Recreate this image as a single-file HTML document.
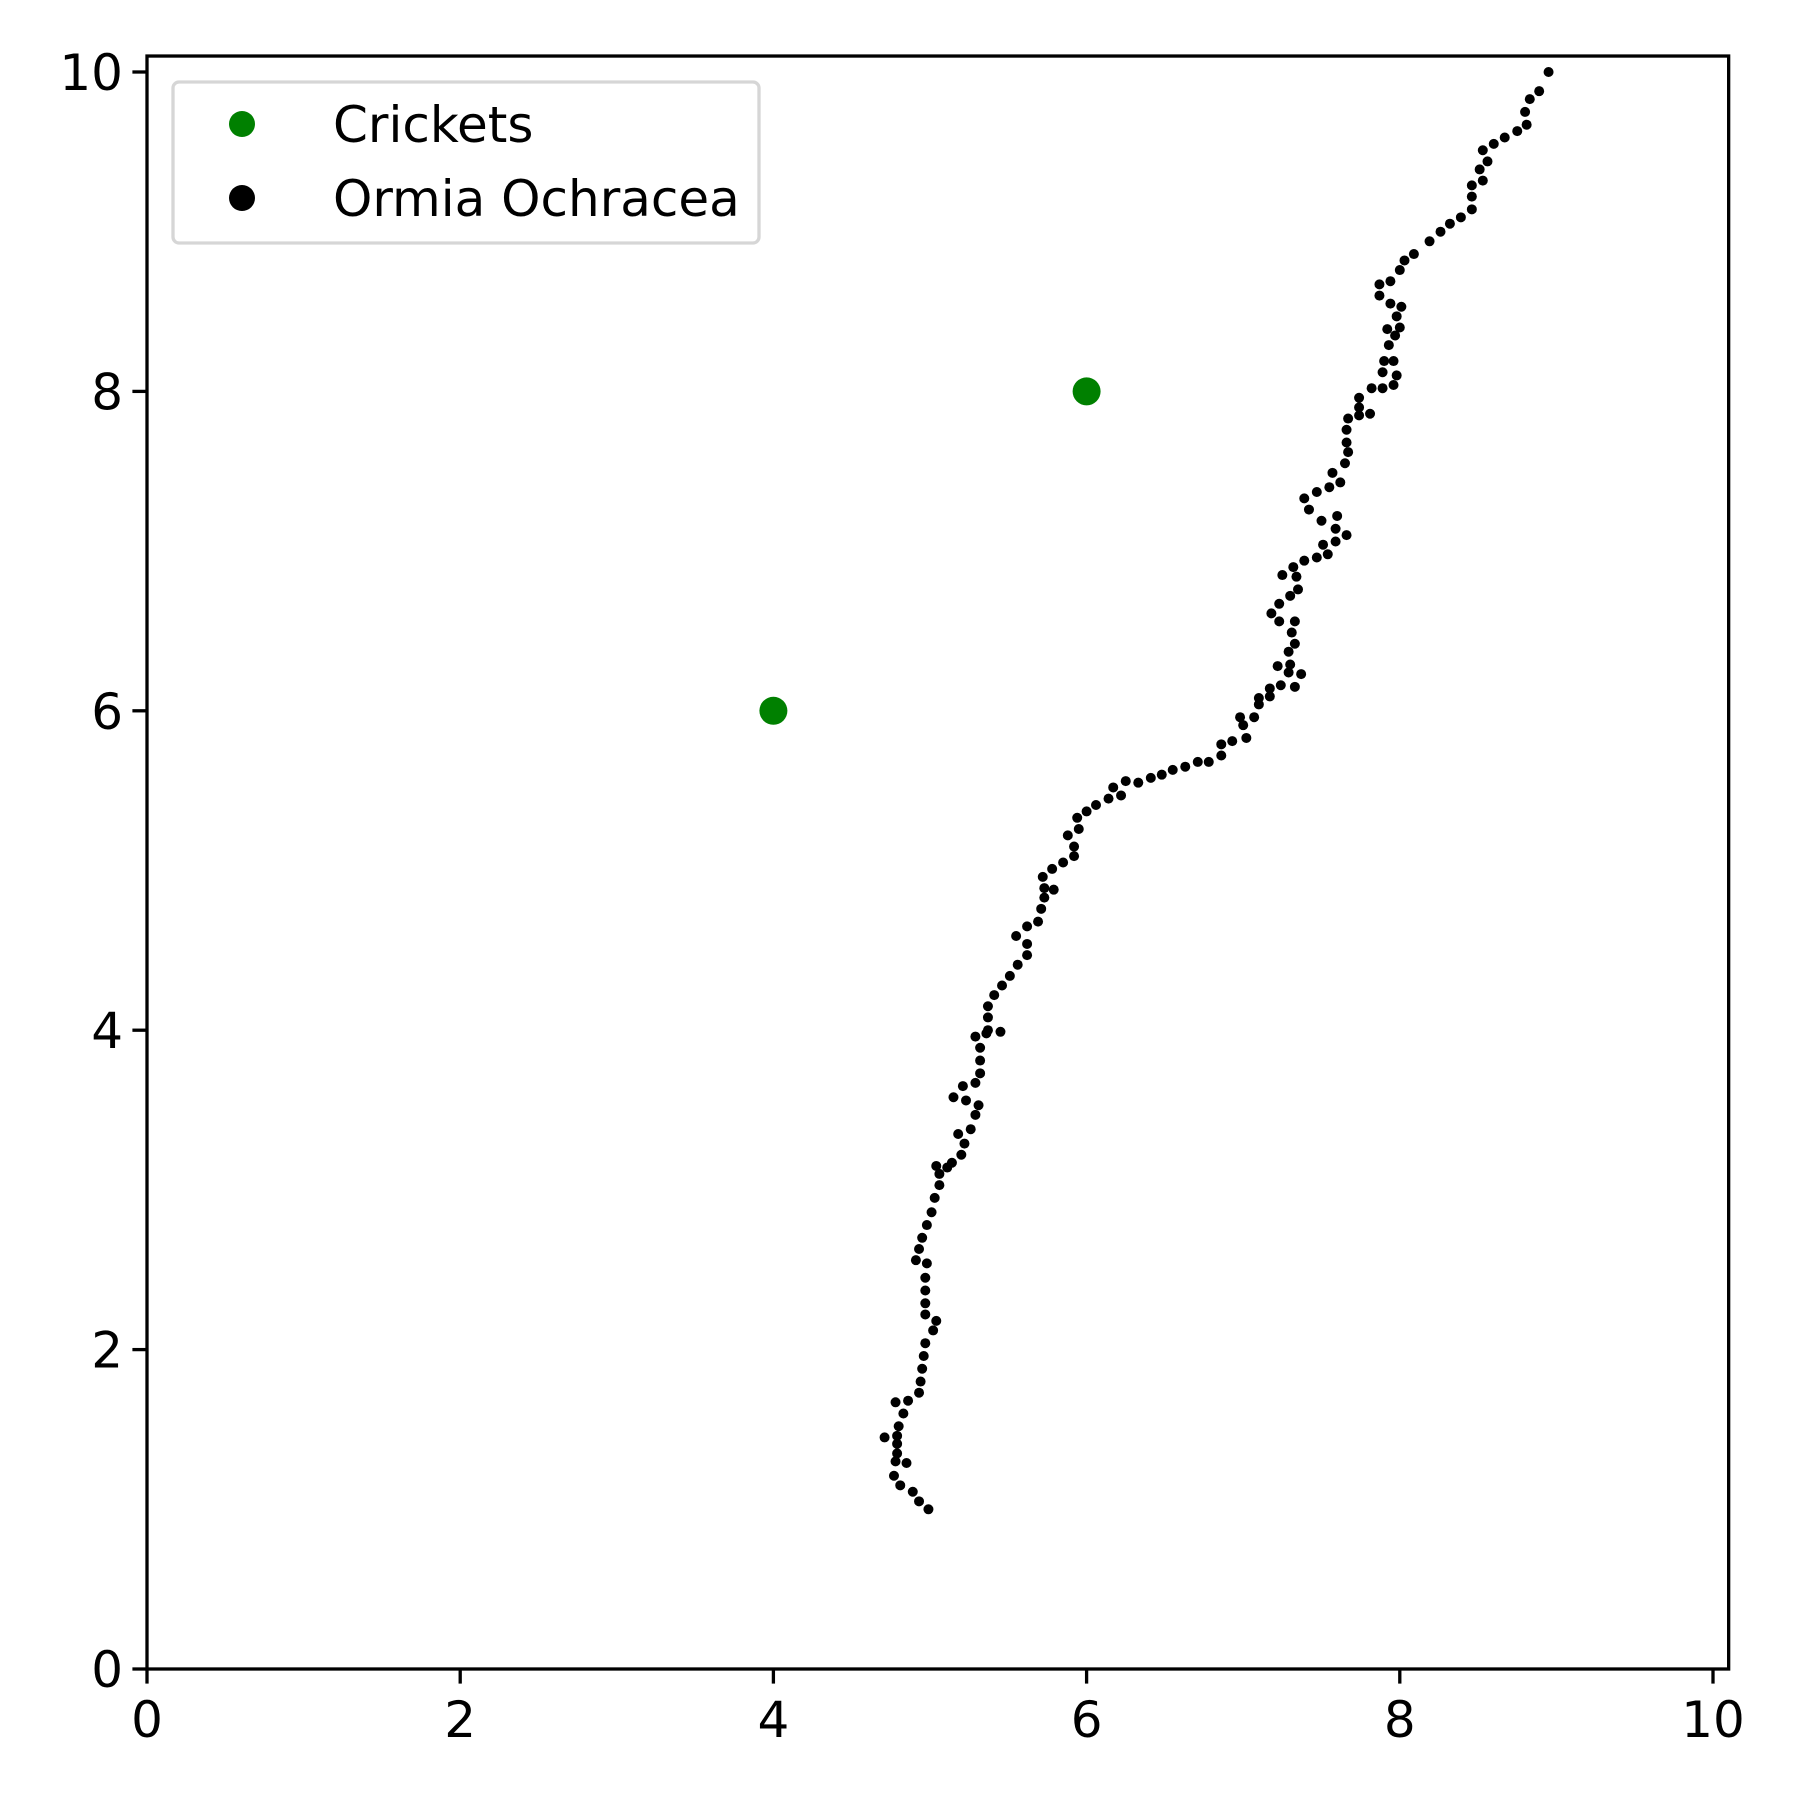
<!DOCTYPE html>
<html><head><meta charset="utf-8"><style>
html,body{margin:0;padding:0;background:#fff;}
svg{display:block;font-family:"DejaVu Sans","Liberation Sans",sans-serif;}
</style></head><body>
<svg id="chart" width="1800" height="1800" viewBox="0 0 1800 1800">
<rect width="1800" height="1800" fill="#fff"/>
<g id="marks"></g>
<g id="axes"></g>
<g>
<rect x="173" y="82" width="586" height="161" rx="6" fill="#fff" fill-opacity="0.8" stroke="#d6d6d6" stroke-width="3.3"/>
<circle cx="242" cy="124" r="13" fill="#008000"/>
<text x="333" y="142" font-size="50">Crickets</text>
<circle cx="242" cy="198" r="13" fill="#000"/>
<text x="333" y="216" font-size="50">Ormia Ochracea</text>
</g>
</svg>
<script>
const cricketX=[4,6];
const cricketY=[6,8];
const flyX=[4.99,4.93,4.89,4.81,4.77,4.85,4.78,4.79,4.79,4.71,4.79,4.80,4.83,4.78,4.86,4.93,4.94,4.95,4.96,4.97,5.02,5.04,4.97,4.97,4.97,4.97,4.98,4.91,4.93,4.95,4.98,5.01,5.03,5.06,5.06,5.04,5.11,5.14,5.20,5.22,5.18,5.26,5.29,5.31,5.23,5.15,5.21,5.29,5.32,5.32,5.32,5.29,5.36,5.45,5.37,5.37,5.37,5.41,5.46,5.51,5.56,5.62,5.62,5.55,5.62,5.69,5.71,5.73,5.79,5.73,5.72,5.78,5.85,5.92,5.92,5.88,5.95,5.94,6.00,6.06,6.14,6.22,6.17,6.25,6.33,6.41,6.48,6.55,6.63,6.71,6.78,6.86,6.86,6.93,7.02,7.00,7.07,6.98,7.10,7.10,7.17,7.17,7.24,7.33,7.37,7.29,7.30,7.22,7.29,7.33,7.31,7.33,7.23,7.18,7.23,7.30,7.35,7.34,7.25,7.32,7.39,7.47,7.54,7.51,7.59,7.66,7.59,7.50,7.60,7.42,7.39,7.47,7.55,7.62,7.57,7.65,7.67,7.66,7.66,7.67,7.74,7.81,7.74,7.74,7.82,7.89,7.96,7.98,7.89,7.90,7.96,7.93,7.97,8.00,7.92,7.98,8.01,7.94,7.87,7.94,7.87,8.00,8.03,8.09,8.19,8.26,8.32,8.39,8.46,8.46,8.46,8.53,8.51,8.56,8.53,8.60,8.67,8.75,8.81,8.80,8.83,8.89,8.95];
const flyY=[1.00,1.05,1.11,1.15,1.21,1.29,1.30,1.35,1.41,1.45,1.46,1.52,1.60,1.67,1.68,1.73,1.80,1.88,1.96,2.04,2.12,2.18,2.22,2.29,2.37,2.45,2.54,2.56,2.63,2.70,2.78,2.86,2.95,3.03,3.10,3.15,3.14,3.17,3.22,3.29,3.35,3.38,3.47,3.53,3.56,3.58,3.65,3.67,3.73,3.81,3.89,3.96,3.98,3.99,4.00,4.08,4.15,4.22,4.28,4.34,4.41,4.47,4.54,4.59,4.65,4.68,4.76,4.83,4.88,4.89,4.96,5.01,5.05,5.09,5.15,5.22,5.26,5.33,5.37,5.41,5.45,5.47,5.52,5.56,5.55,5.58,5.60,5.63,5.65,5.68,5.68,5.72,5.79,5.81,5.83,5.91,5.96,5.96,6.04,6.08,6.09,6.14,6.16,6.15,6.23,6.24,6.29,6.28,6.37,6.42,6.49,6.56,6.56,6.61,6.67,6.72,6.76,6.84,6.85,6.90,6.94,6.96,6.98,7.04,7.06,7.10,7.14,7.19,7.22,7.26,7.33,7.37,7.40,7.43,7.49,7.55,7.62,7.68,7.76,7.83,7.85,7.86,7.90,7.96,8.02,8.02,8.04,8.10,8.12,8.19,8.19,8.29,8.35,8.40,8.39,8.47,8.53,8.55,8.60,8.69,8.67,8.76,8.82,8.86,8.94,9.00,9.05,9.09,9.14,9.22,9.29,9.32,9.39,9.44,9.51,9.55,9.59,9.63,9.67,9.75,9.83,9.88,10.00];
const xTicks=[0,2,4,6,8,10];
const yTicks=[0,2,4,6,8,10];
const X0=147,XU=156.6,Y0=1669,YU=159.7;
const sx=v=>X0+v*XU, sy=v=>Y0-v*YU;
const NS="http://www.w3.org/2000/svg";
const marks=document.getElementById('marks'), axes=document.getElementById('axes');
function mk(tag,attrs,parent){const e=document.createElementNS(NS,tag);for(const k in attrs)e.setAttribute(k,attrs[k]);parent.appendChild(e);return e;}
for(let i=0;i<flyX.length;i++){
  const c=mk('circle',{cx:sx(flyX[i]),cy:sy(flyY[i]),r:5,fill:'#000'},marks);
  
  
}
for(let i=0;i<cricketX.length;i++){
  const c=mk('circle',{cx:sx(cricketX[i]),cy:sy(cricketY[i]),r:14,fill:'#008000'},marks);
  
  
}
const frame=mk('rect',{x:X0,y:sy(10.1),width:sx(10.1)-X0,height:Y0-sy(10.1),fill:'none',stroke:'#000','stroke-width':3.3},axes);


xTicks.forEach(t=>{
  const l=mk('line',{x1:sx(t),x2:sx(t),y1:Y0,y2:Y0+14.6,stroke:'#000','stroke-width':3.3},axes);
  
  
  const tx=mk('text',{x:sx(t),y:Y0+68,'font-size':50,'text-anchor':'middle'},axes);
  tx.textContent=t;
  
  
});
yTicks.forEach(t=>{
  const l=mk('line',{x1:X0-14.6,x2:X0,y1:sy(t),y2:sy(t),stroke:'#000','stroke-width':3.3},axes);
  
  
  const tx=mk('text',{x:X0-24,y:sy(t)+18,'font-size':50,'text-anchor':'end'},axes);
  tx.textContent=t;
  
  
});
</script>
</body></html>
